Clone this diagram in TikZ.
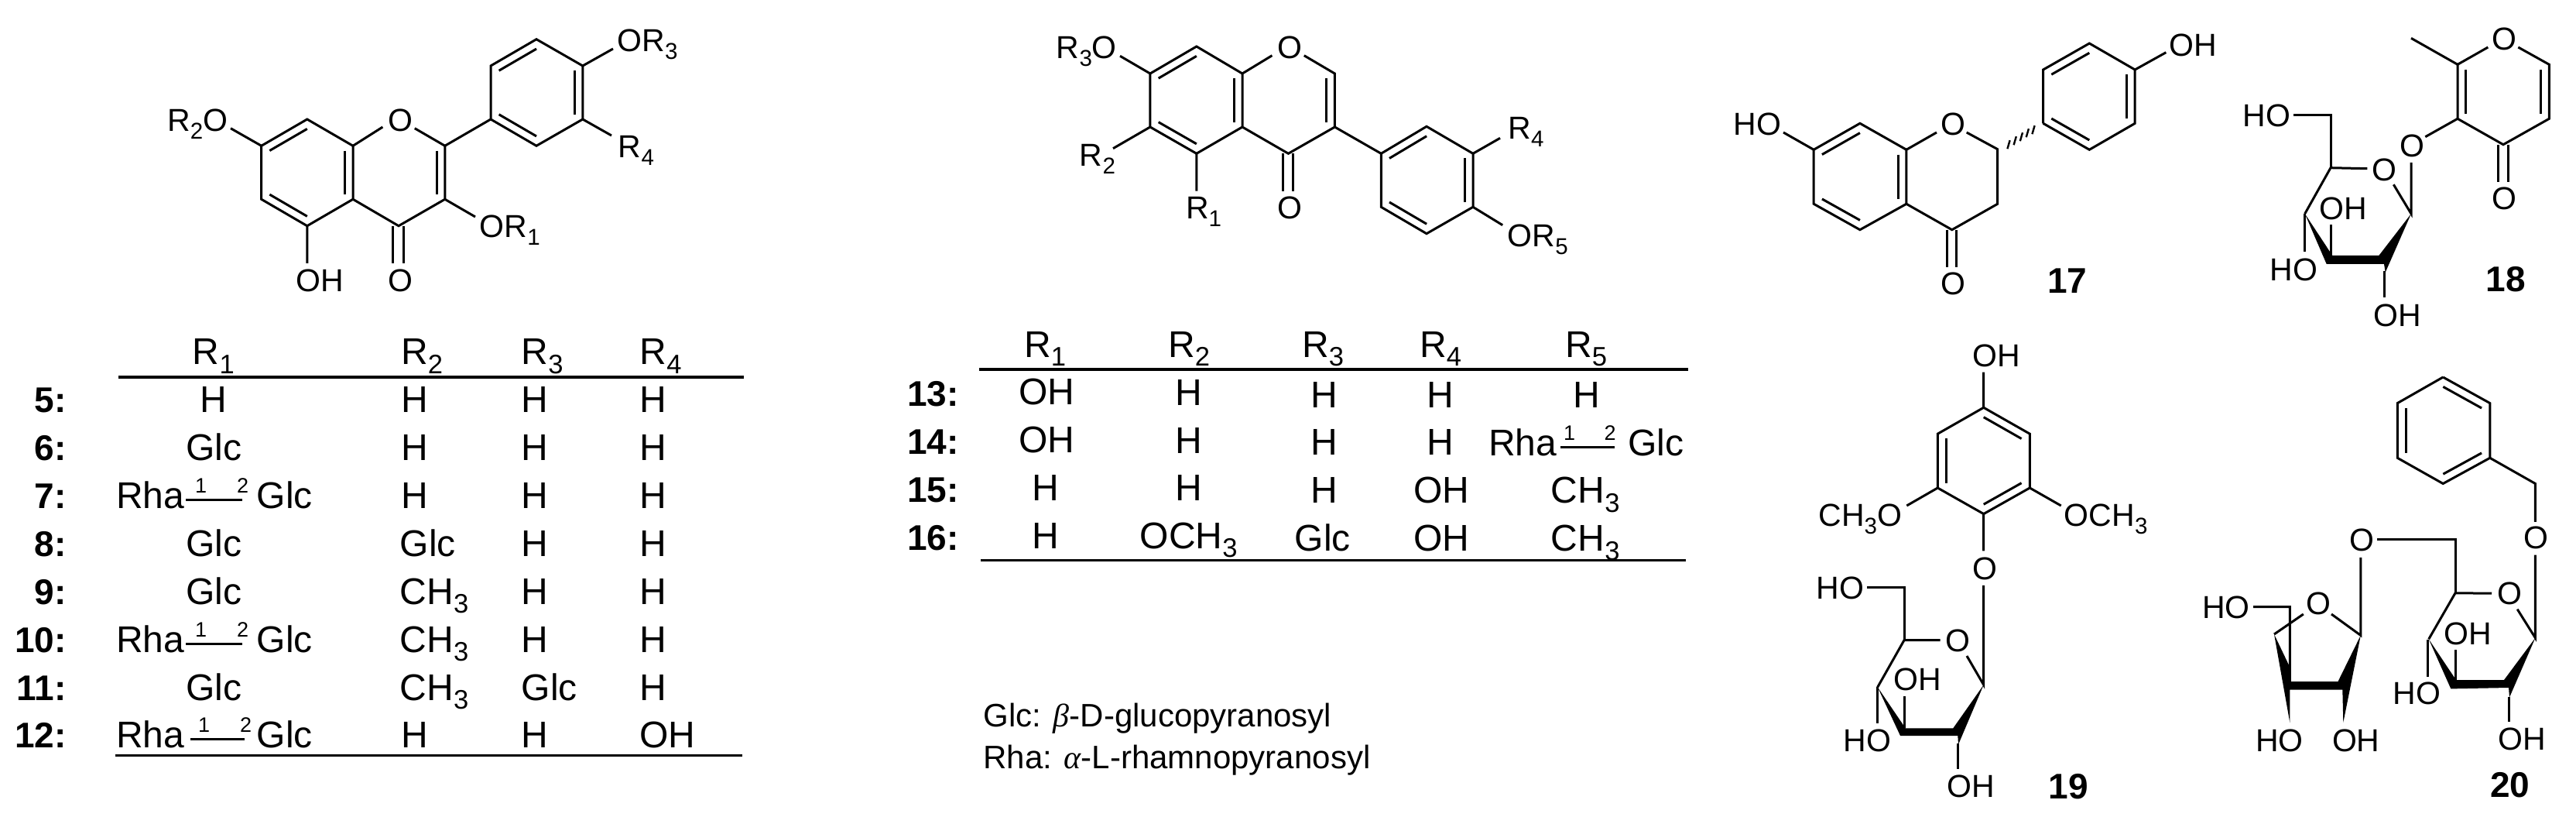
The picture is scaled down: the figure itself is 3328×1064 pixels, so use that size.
\documentclass[tikz,border=0pt]{standalone}
\usepackage{fontspec}
\setmainfont{Liberation Sans}
\newfontfamily\grk{Liberation Serif}
\usetikzlibrary{calc}
\newcommand\sbs[1]{\raisebox{-.24em}{\fontsize{\the\dimexpr.72em\relax}{10pt}\selectfont #1}}
\newcommand\pts[1]{\foreach \n/\x/\y in {#1}{\coordinate (\n) at (\x,\y);}}
\newcommand\dbl[3]{\draw[bond] ($(#1)!.18!(#3)$) -- ($(#2)!.18!(#3)$);}
\newcommand\lb[3]{\node[lab] (#1) at (#2) {#3};}
\newcommand\cell[3]{\node[tab] (#1) at (#2) {#3};}
\newcommand\numl[3]{\node[num] (#1) at (#2) {#3};}
\newcommand\rg[8]{% name, y, Rha x, line L, line R, digit1 x, digit2 x, Glc x
  \node[tab] (#1r) at (#3,#2) {Rha};
  \node[tab] (#1g) at (#8,#2) {Glc};
  \node[dig] (#1a) at (#6,#2-20) {1};
  \node[dig] (#1b) at (#7,#2-20) {2};
  \coordinate (#1l) at (#4,#2-11);
  \coordinate (#1e) at (#5,#2-11);
  \draw[bond] (#1l) -- (#1e);}
\tikzset{
  bond/.style={line width=3pt,line join=miter,line cap=butt},
  rule/.style={line width=3.4pt},
  lab/.style={inner sep=0pt,anchor=base west,font=\fontsize{41}{48}\selectfont},
  tab/.style={inner sep=0pt,anchor=base west,font=\fontsize{48}{54}\selectfont},
  dig/.style={inner sep=0pt,anchor=base west,font=\fontsize{27}{32}\selectfont},
  num/.style={inner sep=0pt,anchor=base east,font=\fontsize{46}{54}\selectfont\bfseries},
  numb/.style={inner sep=0pt,anchor=base west,font=\fontsize{46}{54}\selectfont\bfseries},
  leg/.style={inner sep=0pt,anchor=base west,font=\fontsize{42}{50}\selectfont},
  wedge/.style={fill=black,draw=none}
}
\begin{document}
\begin{tikzpicture}[x=1pt,y=-1pt]
\useasboundingbox (0,0) rectangle (3328,1064);
% ---------- compound family 5-12
\pts{a7/337.7/188.3,a8/396.8/154,a8a/456/188.3,a4a/456/257.3,a5/396.8/291.7,a6/337.7/257.3,
a2/574.8/188.3,a3/574.8/257.3,a4/515/291.7,
b1/634/154,b2/634/85,b3/693/50.7,b4/752.8/85,b5/752.8/154,b6/693/188.3,
acA/396.8/223,acC/515/223,acB/693/119.5,
aO1l/494.4/164,aO1r/535.8/165.7,aOR3/792/63,aR2O/298/165.7,aR4/790/175,aOR1/614/280,aOH/396.8/340,
aCOa/507.6/292,aCOb/507.6/340,aCOc/521.4/292,aCOd/521.4/340}
\lb{aor3}{797.5,66.7}{OR\sbs{3}}
\lb{ar2o}{216,170}{R\sbs{2}O}
\lb{ar4}{798.7,204}{R\sbs{4}}
\lb{aor1}{619.6,307}{OR\sbs{1}}
\lb{aoh}{382.5,376.7}{OH}
\lb{aoo}{501,376.7}{O}
\lb{ao1}{501,170}{O}
\draw[bond] (aO1l) -- (a8a) -- (a4a) -- (a4) -- (a3) -- (a2) -- (aO1r);
\draw[bond] (a8a) -- (a8) -- (a7) -- (a6) -- (a5) -- (a4a);
\draw[bond] (a2) -- (b1) -- (b2) -- (b3) -- (b4) -- (b5) -- (b6) -- (b1);
\draw[bond] (a7) -- (aR2O) (a5) -- (aOH) (a3) -- (aOR1) (b4) -- (aOR3) (b5) -- (aR4);
\draw[bond] (aCOa) -- (aCOb) (aCOc) -- (aCOd);
\dbl{a7}{a8}{acA}\dbl{a8a}{a4a}{acA}\dbl{a5}{a6}{acA}\dbl{a2}{a3}{acC}
\dbl{b2}{b3}{acB}\dbl{b4}{b5}{acB}\dbl{b1}{b6}{acB}
% ---------- table 5-12
\pts{tAl/153/487,tAr/961/487,tBl/148.6/975.6,tBr/958.5/975.6}
\draw[rule] (tAl) -- (tAr) (tBl) -- (tBr);
\cell{h1}{248.7,470.8}{R\sbs{1}}\cell{h2}{518,470.8}{R\sbs{2}}\cell{h3}{673.5,470.8}{R\sbs{3}}\cell{h4}{826.5,470.8}{R\sbs{4}}
\numl{n5}{86,532.8}{5:}\numl{n6}{86,594.8}{6:}\numl{n7}{86,656.8}{7:}\numl{n8}{86,718.4}{8:}
\numl{n9}{86,780.4}{9:}\numl{n10}{86,842.4}{10:}\numl{n11}{86,904}{11:}\numl{n12}{86,965.6}{12:}
\cell{r5a}{258,532.8}{H}\cell{r5b}{518,532.8}{H}\cell{r5c}{673.5,532.8}{H}\cell{r5d}{826.5,532.8}{H}
\cell{r6a}{240.4,594.8}{Glc}\cell{r6b}{518,594.8}{H}\cell{r6c}{673.5,594.8}{H}\cell{r6d}{826.5,594.8}{H}
\rg{r7x}{656.8}{150}{240.4}{312.5}{252}{306}{331.6}\cell{r7b}{518,656.8}{H}\cell{r7c}{673.5,656.8}{H}\cell{r7d}{826.5,656.8}{H}
\cell{r8a}{240.4,718.4}{Glc}\cell{r8b}{516.6,718.4}{Glc}\cell{r8c}{673.5,718.4}{H}\cell{r8d}{826.5,718.4}{H}
\cell{r9a}{240.4,780.4}{Glc}\cell{r9b}{516.6,780.4}{CH\sbs{3}}\cell{r9c}{673.5,780.4}{H}\cell{r9d}{826.5,780.4}{H}
\rg{r10x}{842.4}{150}{240.4}{312.5}{252}{306}{331.6}\cell{r10b}{516.6,842.4}{CH\sbs{3}}\cell{r10c}{673.5,842.4}{H}\cell{r10d}{826.5,842.4}{H}
\cell{r11a}{240.4,904}{Glc}\cell{r11b}{516.6,904}{CH\sbs{3}}\cell{r11c}{673.5,904}{Glc}\cell{r11d}{826.5,904}{H}
\rg{r12x}{965.6}{150}{245.5}{315.7}{256}{310}{331.6}\cell{r12b}{518,965.6}{H}\cell{r12c}{673.5,965.6}{H}\cell{r12d}{826,965.6}{OH}
% ---------- compound family 13-16
\pts{c7/1485.9/95,c8/1545.8/60,c8a/1605/95,c4a/1605/164,c5/1545.8/198.3,c6/1485.9/164,
c2/1724.4/95,c3/1724.4/164,c4/1664.4/198.3,
d1/1784.3/198.3,d2/1843/163.3,d3/1903/198.3,d4/1903/267.3,d5/1843/301.7,d6/1784.3/267.3,
ccA/1545.8/129,ccC/1664.4/129,ccB/1843.5/232.5,
cO1l/1643.4/71.7,cO1r/1684.8/71.7,cR3O/1447/72.3,cR2/1438/191.7,cR1/1545.8/246.7,cR4/1938/178.3,cOR5/1941.2/290.7,
cCOa/1657.4/198.3,cCOb/1657.4/246.7,cCOc/1670.8/198.3,cCOd/1670.8/246.7}
\lb{co1}{1649.8,76}{O}
\lb{coo}{1649.8,282.7}{O}
\lb{cr3o}{1364.7,76}{R\sbs{3}O}
\lb{cr2}{1394.7,214.3}{R\sbs{2}}
\lb{cr1}{1531.8,282.7}{R\sbs{1}}
\lb{cr4}{1948.2,179.3}{R\sbs{4}}
\lb{cor5}{1947.6,318.3}{OR\sbs{5}}
\draw[bond] (cO1l) -- (c8a) -- (c4a) -- (c4) -- (c3) -- (c2) -- (cO1r);
\draw[bond] (c8a) -- (c8) -- (c7) -- (c6) -- (c5) -- (c4a);
\draw[bond] (c3) -- (d1) -- (d2) -- (d3) -- (d4) -- (d5) -- (d6) -- (d1);
\draw[bond] (c7) -- (cR3O) (c6) -- (cR2) (c5) -- (cR1) (d3) -- (cR4) (d4) -- (cOR5);
\draw[bond] (cCOa) -- (cCOb) (cCOc) -- (cCOd);
\dbl{c7}{c8}{ccA}\dbl{c8a}{c4a}{ccA}\dbl{c5}{c6}{ccA}\dbl{c2}{c3}{ccC}
\dbl{d1}{d2}{ccB}\dbl{d3}{d4}{ccB}\dbl{d5}{d6}{ccB}
% ---------- table 13-16
\pts{uAl/1265.4/477,uAr/2180.5/477,uBl/1266.8/723.4,uBr/2178.4/723.4}
\draw[rule] (uAl) -- (uAr) (uBl) -- (uBr);
\cell{k1}{1323,461.2}{R\sbs{1}}\cell{k2}{1509,461.2}{R\sbs{2}}\cell{k3}{1682,461.2}{R\sbs{3}}\cell{k4}{1834,461.2}{R\sbs{4}}\cell{k5}{2022,461.2}{R\sbs{5}}
\numl{n13}{1238.8,524.4}{13:}\numl{n14}{1238.8,586.4}{14:}\numl{n15}{1238.8,648.8}{15:}\numl{n16}{1238.8,710}{16:}
\cell{s13a}{1316,522.5}{OH}\cell{s13b}{1518,523.6}{H}\cell{s13c}{1692.8,526.3}{H}\cell{s13d}{1843.7,526.3}{H}\cell{s13e}{2031.8,526.3}{H}
\cell{s14a}{1316,584.5}{OH}\cell{s14b}{1518,585.6}{H}\cell{s14c}{1692.8,587.5}{H}\cell{s14d}{1843.7,587.5}{H}
\rg{s14x}{588.3}{1923}{2015.6}{2085.8}{2019.8}{2072.5}{2103.3}
\cell{s15a}{1333.5,646.8}{H}\cell{s15b}{1518,646.8}{H}\cell{s15c}{1692.8,649.5}{H}\cell{s15d}{1826,649.5}{OH}\cell{s15e}{2003.7,649.5}{CH\sbs{3}}
\cell{s16a}{1333.5,708}{H}\cell{s16b}{1472.5,708}{OCH\sbs{3}}\cell{s16c}{1672.5,711.9}{Glc}\cell{s16d}{1826,711.9}{OH}\cell{s16e}{2003.7,711.9}{CH\sbs{3}}
\node[leg] (legG) at (1270.4,938.8) {Glc: {\grk\itshape β}-D-glucopyranosyl};
\node[leg] (legR) at (1270.4,992) {Rha: {\grk\itshape α}-L-rhamnopyranosyl};
% ---------- 17
\pts{e7/2343.2/193.3,e8/2402.9/159.3,e8a/2462.9/193.3,e4a/2462.9/263.3,e5/2402.9/296.7,e6/2343.2/263.3,
e2/2580.7/192.7,e3/2580.7/263.3,e4/2521.8/296.7,
f1/2639.6/159.3,f2/2639.6/90,f3/2699.3/56,f4/2758.2/90,f5/2758.2/159.3,f6/2699.3/193.3,
ecA/2402.9/228,ecB/2699/124.6,
eO1l/2502/171,eO1r/2540.7/171,eHO/2304/171,eOH/2798.3/67.7,
eCOa/2515.7/296.7,eCOb/2515.7/345,eCOc/2527/296.7,eCOd/2527/345}
\lb{eo1}{2506.8,175}{O}
\lb{eho}{2239.6,175}{HO}
\lb{eoo}{2506.8,380.7}{O}
\lb{eoh}{2802.7,72.7}{OH}
\node[numb] (n17) at (2645,378.3) {17};
\draw[bond] (eO1l) -- (e8a) -- (e4a) -- (e4) -- (e3) -- (e2) -- (eO1r);
\draw[bond] (e8a) -- (e8) -- (e7) -- (e6) -- (e5) -- (e4a);
\draw[bond] (f1) -- (f2) -- (f3) -- (f4) -- (f5) -- (f6) -- (f1);
\draw[bond] (e7) -- (eHO) (f4) -- (eOH);
\draw[bond] (eCOa) -- (eCOb) (eCOc) -- (eCOd);
\dbl{e7}{e8}{ecA}\dbl{e8a}{e4a}{ecA}\dbl{e5}{e6}{ecA}
\dbl{f2}{f3}{ecB}\dbl{f4}{f5}{ecB}\dbl{f6}{f1}{ecB}
\foreach \hx/\hy in {2595/186.7,2603.2/181.7,2611.4/176.7,2619.3/171.7,2627/167.7}
  \draw[line width=2.4pt] (\hx+1.6,\hy-5.5) -- (\hx-1.6,\hy+5.5);
% ---------- 18
\pts{g2/3175/83.3,g6/3293.3/83.3,g5/3293.3/153.3,g4/3234/186.7,g3/3175/153.3,gc/3234/120,
gMe/3115/49.3,gOl/3214.3/61,gOr/3253.3/61,
gCOa/3227.7/186.7,gCOb/3227.7/235,gCOc/3240/186.7,gCOd/3240/235,
gOg/3133.3/176.7,gOd/3115/210,gS1/3115/276,gRl/3092.3/238.3,gRr/3058.3/217.7,gS5/3011/216.7,gS4/2977.7/276,
gCH/3011/148.3,gHO/2963.3/148.3,
gU1/3011.7/290,gU2/3011.7/330,gH1/2977.7/276,gH2/2977.7/325,gD1/3080.7/350,gD2/3080.7/384}
\lb{go1}{3219,65}{O}
\lb{goo}{3219,271}{O}
\lb{gog}{3100.7,202.7}{O}
\lb{gor}{3064.3,233.3}{O}
\lb{gho}{2897.7,163.3}{HO}
\lb{goh1}{2996.7,284}{OH}
\lb{gho2}{2932.7,362.3}{HO}
\lb{goh2}{3066,421.7}{OH}
\node[numb] (n18) at (3211.7,376.7) {18};
\draw[bond] (gOl) -- (g2) -- (g3) -- (g4) -- (g5) -- (g6) -- (gOr);
\draw[bond] (g2) -- (gMe) (g3) -- (gOg) (gOd) -- (gS1) -- (gRl) (gRr) -- (gS5) -- (gS4);
\draw[bond] (gS5) -- (gCH) -- (gHO) (gU1) -- (gU2) (gH1) -- (gH2) (gD1) -- (gD2);
\draw[bond] (gCOa) -- (gCOb) (gCOc) -- (gCOd);
\dbl{g2}{g3}{gc}\dbl{g6}{g5}{gc}
\fill[wedge] (2977.7,276) -- (3013.3,330) -- (3073.3,330) -- (3115,276) -- (3081.7,351.7) -- (3080,341) -- (3005.7,341) -- cycle;
% ---------- 19
\pts{h1a/2562.7/526.3,h2a/2622.3/560.2,h3a/2622.3/630,h4a/2562.7/663.6,h5a/2503.3/630,h6a/2503.3/560.2,hc/2562.7/595,
hOH/2562.7/480.5,hOR/2662.7/653,hOL/2463.3/653,hOg/2562.7/711.4,hOd/2562.7/755.9,hS1/2562.7/884.3,
hRr/2541/847,hRl/2506.7/826.7,hS5/2460/826.7,hCH/2460/758,hHO/2411.7/758,hS4/2425.7/887.3,
hU1/2460/899,hU2/2460/940,hH1/2425.7/887,hH2/2425.7/934,hD1/2529.3/960,hD2/2529.3/993}
\lb{hoh}{2548.3,473.3}{OH}
\lb{hocr}{2666.7,679.7}{OCH\sbs{3}}
\lb{hocl}{2349.3,679.7}{CH\sbs{3}O}
\lb{hog}{2548.3,748.7}{O}
\lb{hor}{2513.3,841.5}{O}
\lb{hho}{2346.7,773.7}{HO}
\lb{hoh1}{2446,891.5}{OH}
\lb{hho2}{2381.7,970}{HO}
\lb{hoh2}{2515,1029.2}{OH}
\node[numb] (n19) at (2646.7,1031.4) {19};
\draw[bond] (hOH) -- (h1a) -- (h2a) -- (h3a) -- (h4a) -- (h5a) -- (h6a) -- (h1a);
\draw[bond] (h3a) -- (hOR) (h5a) -- (hOL) (h4a) -- (hOg) (hOd) -- (hS1) -- (hRr) (hRl) -- (hS5) -- (hS4);
\draw[bond] (hS5) -- (hCH) -- (hHO) (hU1) -- (hU2) (hH1) -- (hH2) (hD1) -- (hD2);
\dbl{h1a}{h2a}{hc}\dbl{h3a}{h4a}{hc}\dbl{h5a}{h6a}{hc}
\fill[wedge] (2425.7,887.3) -- (2461.7,940.3) -- (2523.3,940.3) -- (2562.7,884.3) -- (2530,961.4) -- (2529.3,950) -- (2455,950) -- cycle;
% ---------- 20
\pts{i1/3156.2/487,i2/3216.8/520.6,i3/3216.8/591.3,i4/3156.2/624.5,i5/3097.3/591.3,i6/3097.3/520.6,ic/3157/556,
iCH/3275.4/624.5,iOu/3275.4/673.8,iOd/3275.4/716.5,iS1/3275.4/823.7,iRr/3252.2/786.7,iRl/3219.2/766.2,iS5/3172/765.8,iS4/3137.7/825.3,
iC6/3172/696.4,iLk/3071/696.4,
iU1/3172.7/839,iU2/3172.7/878,iH1/3136.7/826,iH2/3136.7/873.8,iD1/3241/900,iD2/3241/932,
jOd/3049.8/719.8,jS1/3049.8/820.4,jRr/3012/793,jRl/2975.8/793,jS4/2938/819,jT/2958.3/783.5,jHO/2911/783.5,jB/2958.3/880}
\lb{iog}{3260.6,708.7}{O}
\lb{ior}{3226,780.6}{O}
\lb{ioh1}{3157.6,832}{OH}
\lb{iho2}{3091.3,909.5}{HO}
\lb{ioh2}{3227,968.2}{OH}
\lb{jol}{3035.7,711.6}{O}
\lb{jor}{2979,793.7}{O}
\lb{jho}{2844.8,798.6}{HO}
\lb{jho2}{2913.8,970.3}{HO}
\lb{joh2}{3012.8,970.3}{OH}
\node[numb] (n20) at (3216.8,1029) {20};
\draw[bond] (i3) -- (iCH) -- (iOu) (iOd) -- (iS1) -- (iRr) (iRl) -- (iS5) -- (iS4);
\draw[bond] (i1) -- (i2) -- (i3) -- (i4) -- (i5) -- (i6) -- (i1);
\draw[bond] (iS5) -- (iC6) -- (iLk) (iU1) -- (iU2) (iH1) -- (iH2) (iD1) -- (iD2);
\draw[bond] (jOd) -- (jS1) -- (jRr) (jRl) -- (jS4) (jHO) -- (jT) -- (jB);
\dbl{i1}{i2}{ic}\dbl{i3}{i4}{ic}\dbl{i5}{i6}{ic}
\fill[wedge] (3137.7,825.3) -- (3173,878) -- (3235,878) -- (3275.4,823.7) -- (3242,900.5) -- (3241,888) -- (3166.3,889.4) -- cycle;
\fill[wedge] (2938,819) -- (2958.3,861.5) -- (2958.3,880) -- (3020.5,880) -- (3049.8,820.4) -- (3027.3,933) -- (3026.3,890.5) -- (2958.3,890.5) -- (2958.3,933) -- cycle;
\end{tikzpicture}
\end{document}
